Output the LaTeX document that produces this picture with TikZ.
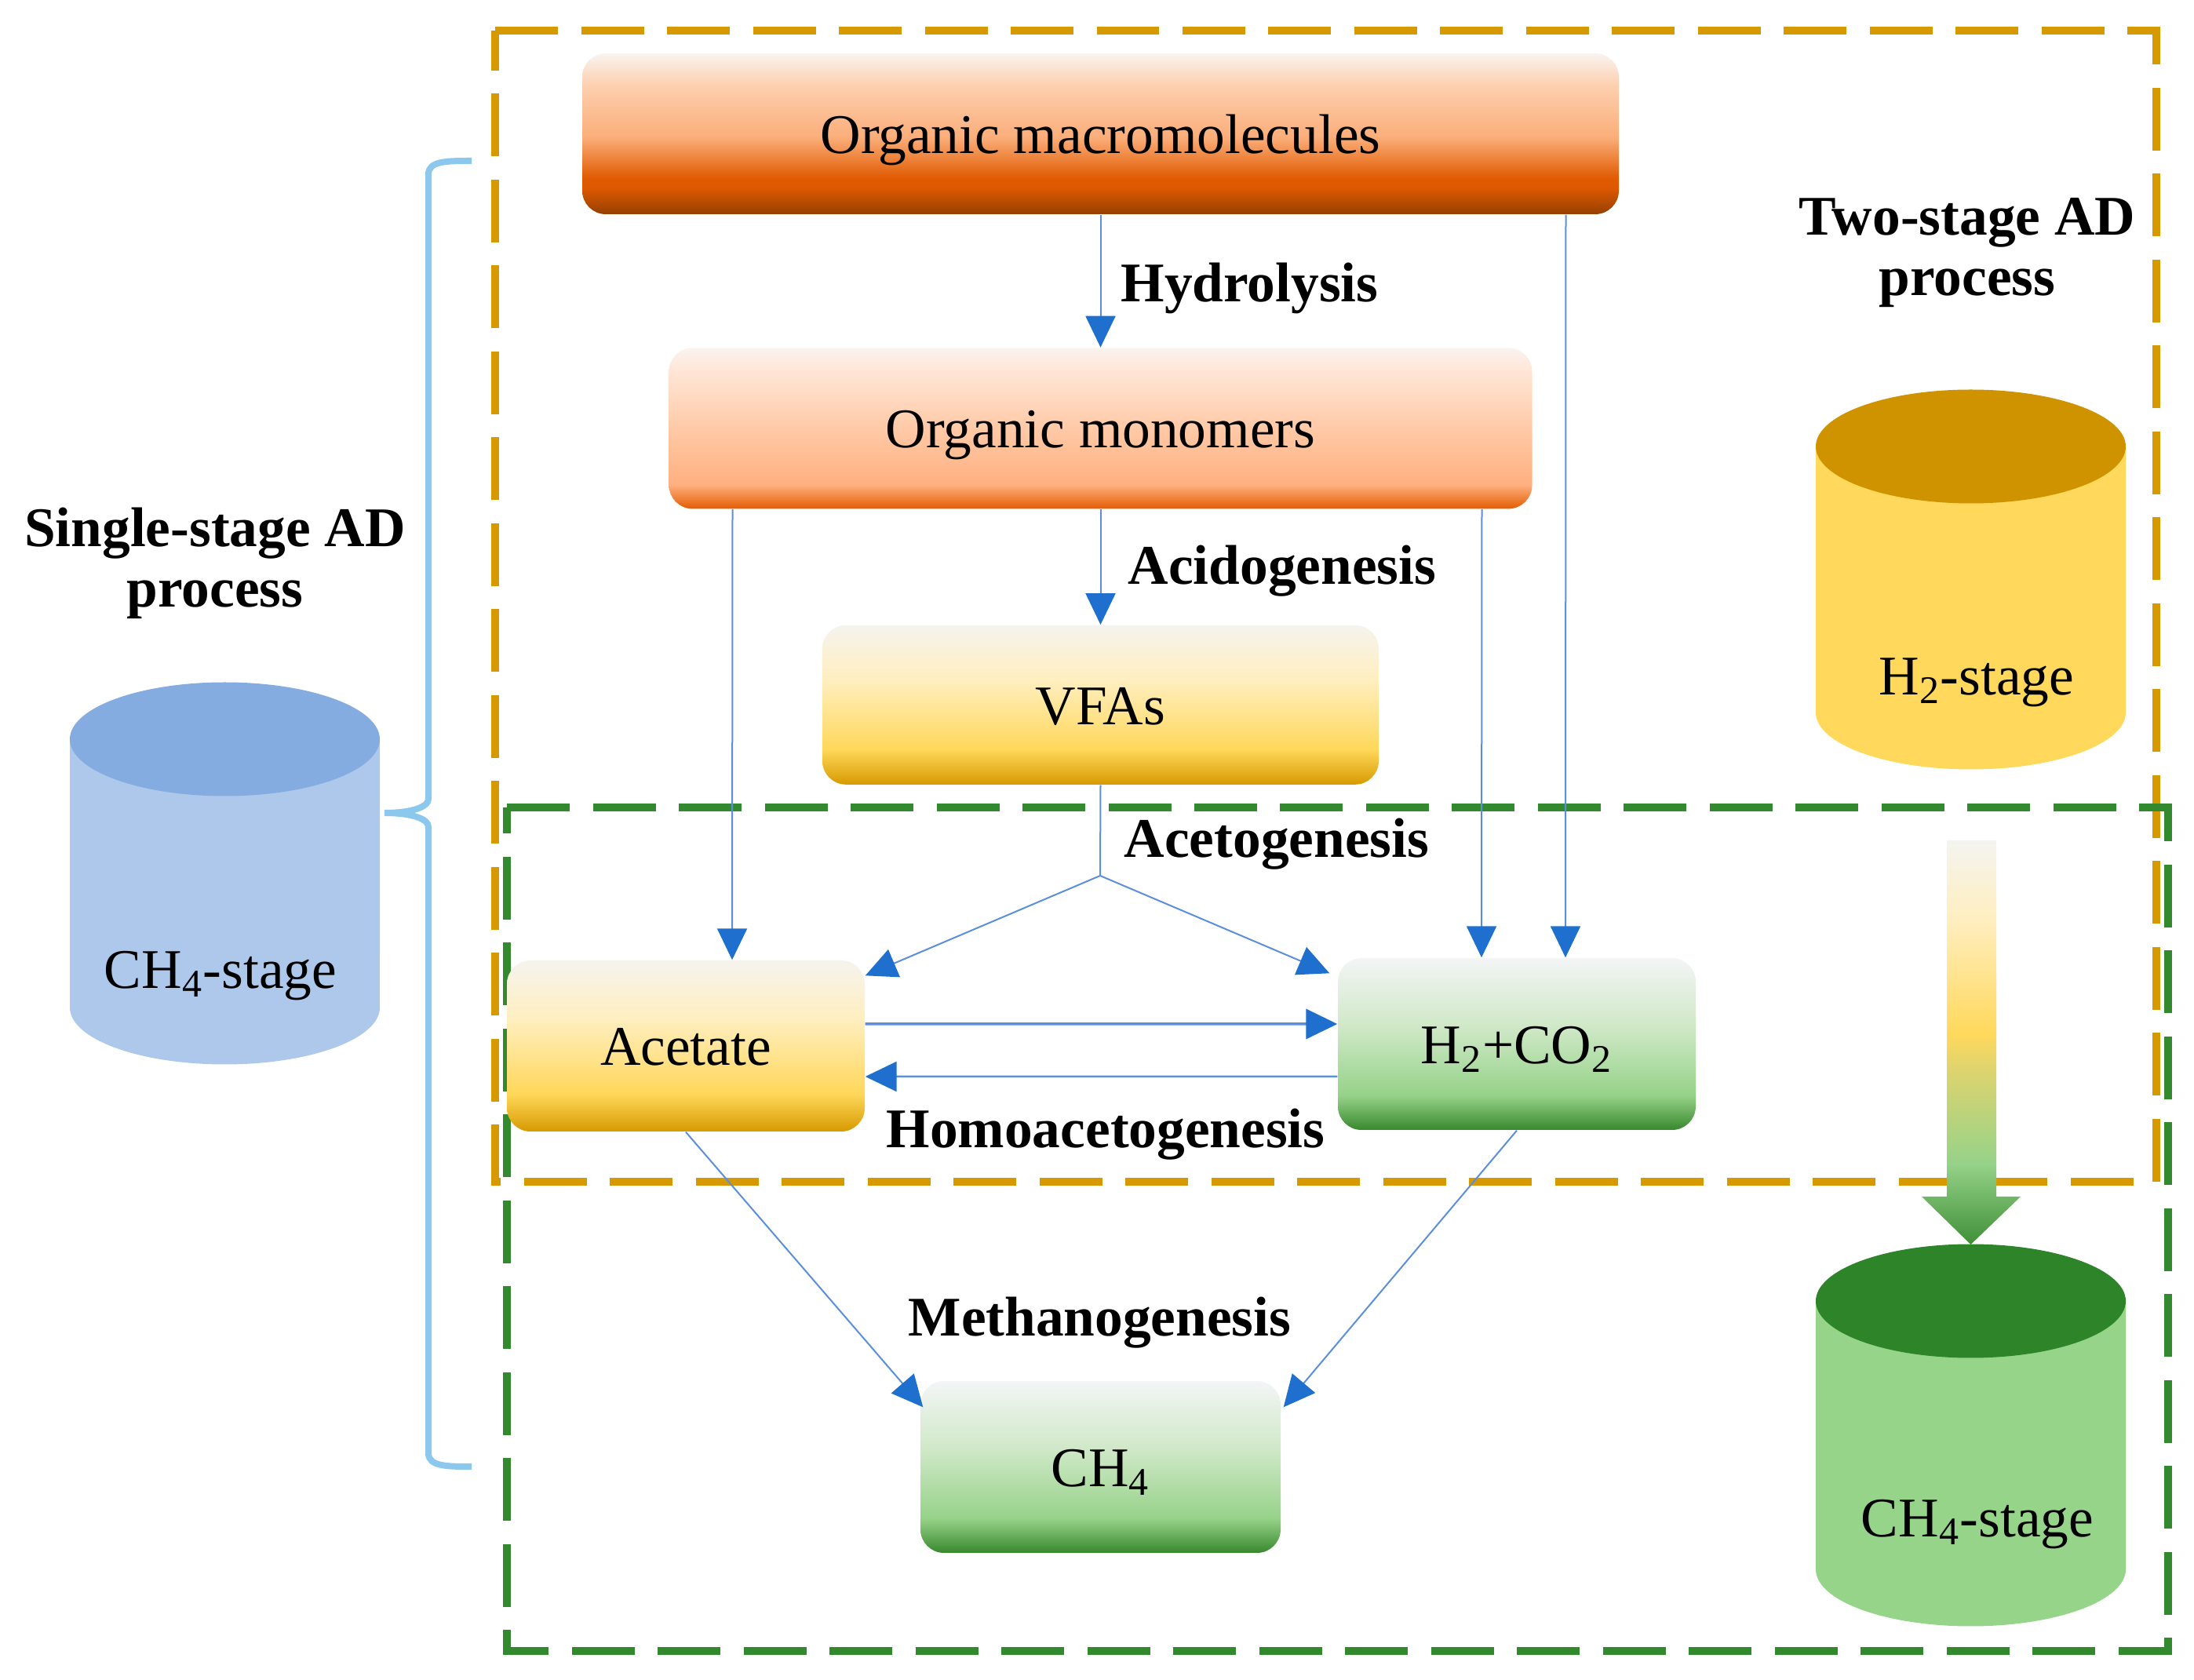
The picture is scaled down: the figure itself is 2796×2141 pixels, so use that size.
\documentclass[tikz,border=0pt]{standalone}
\usepackage{fontspec}
\setmainfont{Liberation Serif}
\usetikzlibrary{positioning,arrows.meta}

% box gradients, the visible part runs from 25bp (bottom) to 75bp (top)
\pgfdeclareverticalshading{macroshade}{100bp}{rgb(0bp)=(.584,.251,0); rgb(25bp)=(.584,.251,0); rgb(33bp)=(.863,.345,0); rgb(36bp)=(.878,.353,0); rgb(49bp)=(.984,.682,.478); rgb(65bp)=(.992,.812,.686); rgb(75bp)=(.976,.957,.941); rgb(100bp)=(.976,.957,.941)}
\pgfdeclareverticalshading{monoshade}{100bp}{rgb(0bp)=(.89,.361,0); rgb(25bp)=(.89,.361,0); rgb(32.5bp)=(1,.69,.502); rgb(49bp)=(1,.784,.643); rgb(69bp)=(1,.91,.855); rgb(75bp)=(.98,.953,.937); rgb(100bp)=(.98,.953,.937)}
\pgfdeclareverticalshading{yellowshade}{100bp}{rgb(0bp)=(.843,.604,0); rgb(25bp)=(.843,.604,0); rgb(36bp)=(1,.843,.353); rgb(58bp)=(1,.937,.753); rgb(75bp)=(.961,.953,.933); rgb(100bp)=(.961,.953,.933)}
\pgfdeclareverticalshading{greenshade}{100bp}{rgb(0bp)=(.22,.533,.18); rgb(25bp)=(.22,.533,.18); rgb(35bp)=(.588,.824,.537); rgb(55bp)=(.812,.91,.78); rgb(75bp)=(.953,.961,.965); rgb(100bp)=(.953,.961,.965)}
\pgfdeclareverticalshading{flowshade}{100bp}{rgb(0bp)=(.247,.561,.216); rgb(25bp)=(.247,.561,.216); rgb(35bp)=(.588,.824,.537); rgb(47bp)=(.878,.831,.431); rgb(51bp)=(1,.847,.361); rgb(65bp)=(1,.933,.745); rgb(75bp)=(.957,.957,.941); rgb(100bp)=(.957,.957,.941)}

\definecolor{linkblue}{HTML}{5B8FDC}
\definecolor{tipblue}{HTML}{1F6FCF}
\definecolor{orangedash}{HTML}{D69A00}
\definecolor{greendash}{HTML}{338A2E}
\definecolor{bracketblue}{HTML}{8CC8EE}
\definecolor{tankblue}{HTML}{ADC8EA}
\definecolor{tankbluetop}{HTML}{84ACE0}
\definecolor{tankyellow}{HTML}{FFD85C}
\definecolor{tankyellowtop}{HTML}{CF9300}
\definecolor{tankgreen}{HTML}{96D48A}
\definecolor{tankgreentop}{HTML}{2E8429}

\begin{document}
\begin{tikzpicture}[
  x=0.1mm,y=-0.1mm,
  font=\fontsize{20.3pt}{21.9pt}\selectfont,
  stagebox/.style={rectangle,rounded corners=3mm,inner sep=0pt,
                   text height=14.2pt,text depth=0pt},
  link/.style={-{Triangle[length=4mm,width=3.8mm,color=tipblue]},
               draw=linkblue,line width=0.2mm},
  steplabel/.style={font=\fontsize{20.3pt}{21.9pt}\selectfont\bfseries,
                    anchor=base west,inner sep=0pt},
  grouplabel/.style={font=\fontsize{20.3pt}{21.9pt}\selectfont\bfseries,
                     align=center,inner sep=0pt},
  tanklabel/.style={anchor=base,inner sep=0pt},
  tankend/.style={x radius=19.75mm,y radius=7.25mm},
  groupbox/.style={line width=1mm,dash pattern=on 8mm off 2.95mm}]

\useasboundingbox (0,0) rectangle (2796,2141);

% --- dashed process groups ---
\draw[groupbox,orangedash] (631,39) -- (2748,39) -- (2748,1506) -- (631,1506) -- cycle;
\draw[groupbox,greendash] (646,1029) -- (2763,1029) -- (2763,2104) -- (646,2104) -- cycle;

% --- the chain, top to bottom ---
\node[stagebox,shading=macroshade,minimum width=132.1mm,minimum height=20.5mm] (macro)
  at (1402.5,170.5) {Organic macromolecules};
\node[stagebox,shading=monoshade,minimum width=110mm,minimum height=20.5mm,
      below=16.9mm of macro] (mono) {Organic monomers};
\node[stagebox,shading=yellowshade,minimum width=70.9mm,minimum height=20.3mm,
      below=14.7mm of mono] (vfas) {VFAs};
\node[stagebox,shading=yellowshade,minimum width=45.6mm,minimum height=21.8mm] (acetate)
  at (874,1333) {Acetate};
\node[stagebox,shading=greenshade,minimum width=45.6mm,minimum height=21.9mm] (h2co2)
  at (1933,1330.5) {H\textsubscript{2}+CO\textsubscript{2}};
\node[stagebox,shading=greenshade,minimum width=45.9mm,minimum height=21.9mm] (ch4)
  at (1402.5,1869.5) {CH\textsubscript{4}};

% --- step names ---
\node[steplabel] (hydro) at (1428,385) {Hydrolysis};
\node[steplabel] (acido) at (1437,745) {Acidogenesis};
\node[steplabel] (aceto) at (1432,1093) {Acetogenesis};
\node[steplabel] (homo) at (1129,1463) {Homoacetogenesis};
\node[steplabel] (metha) at (1157,1703) {Methanogenesis};

% --- arrows ---
\coordinate (split) at (1402,1116);
\draw[link] (macro.south) -- (mono.north);
\draw[link] (mono.south) -- (vfas.north);
\draw[link] ([xshift=59.3mm]macro.south) -- ([xshift=6.2mm]h2co2.north);
\draw[link] ([xshift=-46.9mm]mono.south) -- ([xshift=5.9mm]acetate.north);
\draw[link] ([xshift=48.6mm]mono.south) -- ([xshift=-4.5mm]h2co2.north);
\draw[draw=linkblue,line width=0.2mm] (vfas.south) -- (split);
\draw[link] (split) -- ([yshift=-2mm]acetate.north east);
\draw[link] (split) -- ([yshift=-2mm,xshift=-1mm]h2co2.north west);
\draw[link,line width=0.35mm] ([yshift=2.8mm]acetate.east) -- ([yshift=2.55mm]h2co2.west);
\draw[link,line width=0.25mm] ([yshift=-4.15mm]h2co2.west) -- ([yshift=-3.9mm]acetate.east);
\draw[link] (acetate.south) -- ([yshift=-3.4mm,xshift=0.4mm]ch4.north west);
\draw[link] (h2co2.south) -- ([yshift=-3.4mm,xshift=0.3mm]ch4.north east);

% --- reactors ---
\fill[tankblue] (89,942) -- (89,1284) arc[start angle=180,end angle=360,tankend] -- (484,942) -- cycle;
\fill[tankbluetop] (286.5,942) ellipse[tankend];
\fill[tankyellow] (2314,569) -- (2314,908) arc[start angle=180,end angle=360,tankend] -- (2709,569) -- cycle;
\fill[tankyellowtop] (2511.5,569) ellipse[tankend];
\fill[tankgreen] (2314,1658) -- (2314,2000) arc[start angle=180,end angle=360,tankend] -- (2709,1658) -- cycle;
\fill[tankgreentop] (2511.5,1658) ellipse[tankend];
\coordinate (tankch4top) at (2511.5,1586);

\node[tanklabel] (labsingle) at (281,1260) {CH\textsubscript{4}-stage};
\node[tanklabel] (labh2) at (2519,886) {H\textsubscript{2}-stage};
\node[tanklabel] (labch4) at (2520,1958) {CH\textsubscript{4}-stage};

\node[grouplabel] (single) at (274,718) {Single-stage AD\\process};
\node[grouplabel] (two) at (2507,322) {Two-stage AD\\process};

% --- bracket and block arrow ---
\draw[bracketblue,line width=0.8mm] (601,205) .. controls (570,205) and (546,205) .. (546,222)
  -- (546,1018) .. controls (546,1030) and (520,1036) .. (490,1036)
  .. controls (520,1036) and (546,1042) .. (546,1054)
  -- (546,1852) .. controls (546,1869) and (570,1869) .. (601,1869);
\shade[shading=flowshade] (2481,1071) -- (2544,1071) -- (2544,1525) -- (2575,1525)
  -- (tankch4top) -- (2449,1525) -- (2481,1525) -- cycle;

\end{tikzpicture}
\end{document}
